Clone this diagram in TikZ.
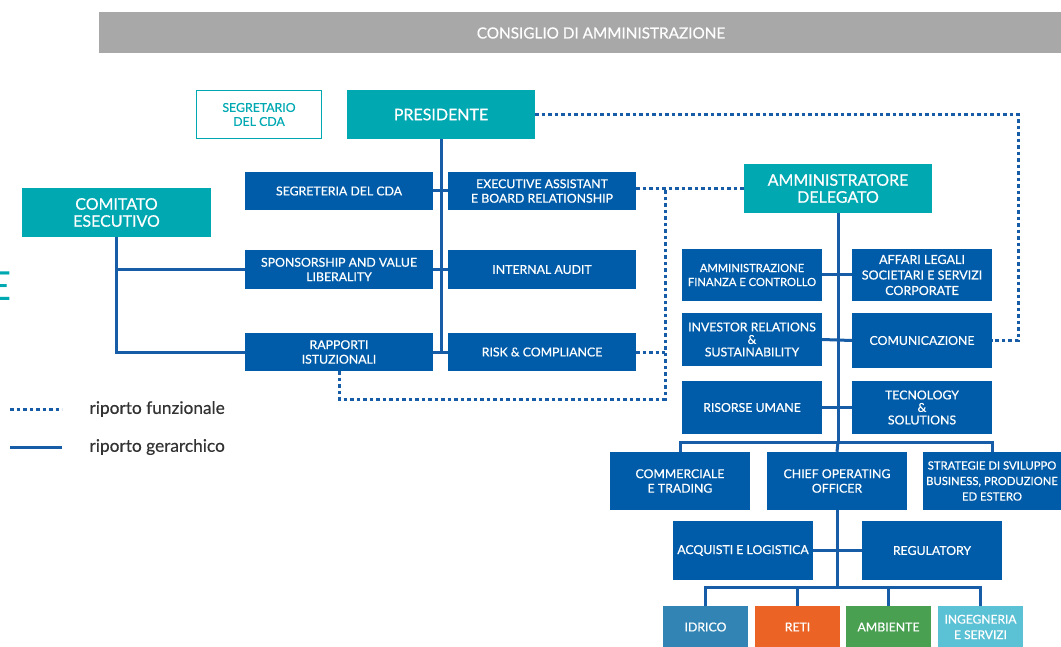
\documentclass[tikz,border=0pt]{standalone}
\usepackage{fontspec}
\setmainfont{Lato}
\newfontfamily\boxfam{Lato}[FakeBold=0.5]
\begin{document}
\begin{tikzpicture}[x=1pt,y=-1pt,
  bluebox/.style={rectangle,fill=boxblue,text=white,inner sep=0pt,align=center,font={\boxfam\fontsize{12.3}{14.5}\selectfont}},
  tealbox/.style={rectangle,fill=teal1,text=white,inner sep=0pt,align=center,font={\boxfam\fontsize{16}{17}\selectfont}},
  gerarc/.style={draw=lineblue,line width=3pt},
  funz/.style={draw=lineblue,line width=3pt,dash pattern=on 3.5pt off 3pt}]
\definecolor{boxblue}{RGB}{0,92,169}
\definecolor{lineblue}{RGB}{22,92,166}
\definecolor{teal1}{RGB}{0,169,178}
\definecolor{barblue}{RGB}{168,168,168}
\definecolor{idrblue}{RGB}{49,132,180}
\definecolor{retiorange}{RGB}{235,100,38}
\definecolor{ambgreen}{RGB}{72,160,80}
\definecolor{ingcyan}{RGB}{91,193,213}
\definecolor{legtext}{RGB}{51,51,51}
\useasboundingbox (0,0) rectangle (1061,647);
\fill[barblue] (99,12) rectangle (1061,53);
\node[text=white,font={\boxfam\fontsize{15.3}{17}\selectfont}] (consiglio) at (601,33) {CONSIGLIO DI AMMINISTRAZIONE};
\node[text=teal1,font={\fontsize{40}{40}\selectfont},anchor=east,inner sep=0pt] (titleE) at (12,286) {E};

\node[rectangle,draw=teal1,line width=1.5pt,text=teal1,inner sep=0pt,align=center,font={\boxfam\fontsize{12.3}{14}\selectfont},minimum width=125pt,minimum height=48pt] (segretario) at (259,114.5) {SEGRETARIO\\DEL CDA};
\node[tealbox,minimum width=188pt,minimum height=49pt] (presidente) at (441,114.5) {PRESIDENTE};
\node[tealbox,minimum width=189pt,minimum height=49pt] (comitato) at (116.5,212.5) {COMITATO\\ESECUTIVO};
\node[tealbox,minimum width=188pt,minimum height=49pt] (ammdel) at (838,188.5) {AMMINISTRATORE\\DELEGATO};

\node[bluebox,minimum width=188pt,minimum height=38pt] (segreteria) at (339,191) {SEGRETERIA DEL CDA};
\node[bluebox,minimum width=188pt,minimum height=38pt] (exec) at (542,191) {EXECUTIVE ASSISTANT\\E BOARD RELATIONSHIP};
\node[bluebox,minimum width=188pt,minimum height=39pt] (sponsor) at (339,269.5) {SPONSORSHIP AND VALUE\\LIBERALITY};
\node[bluebox,minimum width=188pt,minimum height=39pt] (audit) at (542,269.5) {INTERNAL AUDIT};
\node[bluebox,minimum width=188pt,minimum height=38pt] (rapporti) at (339,352) {RAPPORTI\\ISTUZIONALI};
\node[bluebox,minimum width=188pt,minimum height=38pt] (risk) at (542,352) {RISK \& COMPLIANCE};

\node[bluebox,minimum width=140pt,minimum height=52pt,font={\boxfam\fontsize{11.2}{14}\selectfont}] (afc) at (752,275) {AMMINISTRAZIONE\\FINANZA E CONTROLLO};
\node[bluebox,minimum width=140pt,minimum height=52pt,font={\boxfam\fontsize{12.5}{15.5}\selectfont}] (legali) at (922,275) {AFFARI LEGALI\\SOCIETARI E SERVIZI\\CORPORATE};
\node[bluebox,minimum width=140pt,minimum height=53pt,font={\boxfam\fontsize{12.3}{12.5}\selectfont}] (investor) at (752,339.5) {INVESTOR RELATIONS\\\&\\SUSTAINABILITY};
\node[bluebox,minimum width=140pt,minimum height=55pt] (comunic) at (922,340.5) {COMUNICAZIONE};
\node[bluebox,minimum width=140pt,minimum height=53pt] (risorse) at (752,407.5) {RISORSE UMANE};
\node[bluebox,minimum width=140pt,minimum height=53pt,font={\boxfam\fontsize{12.3}{12.5}\selectfont}] (tecno) at (922,407.5) {TECNOLOGY\\\&\\SOLUTIONS};

\node[bluebox,minimum width=140pt,minimum height=58pt] (commerciale) at (680,481) {COMMERCIALE\\E TRADING};
\node[bluebox,minimum width=140pt,minimum height=58pt] (coo) at (837,481) {CHIEF OPERATING\\OFFICER};
\node[bluebox,minimum width=138pt,minimum height=58pt,font={\boxfam\fontsize{11.3}{15.5}\selectfont}] (strategie) at (992,481) {STRATEGIE DI SVILUPPO\\BUSINESS, PRODUZIONE\\ED ESTERO};
\node[bluebox,minimum width=140pt,minimum height=59pt] (acquisti) at (743,550.5) {ACQUISTI E LOGISTICA};
\node[bluebox,minimum width=140pt,minimum height=59pt] (regulatory) at (932,550.5) {REGULATORY};

\node[bluebox,fill=idrblue,minimum width=85pt,minimum height=42pt] (idrico) at (705.5,627) {IDRICO};
\node[bluebox,fill=retiorange,minimum width=85pt,minimum height=42pt] (reti) at (797.5,627) {RETI};
\node[bluebox,fill=ambgreen,minimum width=85pt,minimum height=42pt] (ambiente) at (888.5,627) {AMBIENTE};
\node[bluebox,fill=ingcyan,minimum width=85pt,minimum height=42pt,font={\boxfam\fontsize{12}{15.5}\selectfont}] (ingegneria) at (980.5,627) {INGEGNERIA\\E SERVIZI};

\coordinate (pbus) at (presidente.south |- risk.west);
\coordinate (adbus) at (838,442);
\coordinate (cbus) at (837,587);
\coordinate (pcorner) at (1018,114.5);
\coordinate (fjoin) at (665,188.5);
\coordinate (fbottom) at (665,399);

\draw[gerarc] (presidente.south) -- (pbus);
\draw[gerarc] (segreteria.east) -- (exec.west);
\draw[gerarc] (sponsor.east) -- (audit.west);
\draw[gerarc] (rapporti.east) -- (risk.west);
\draw[gerarc] (comitato.south) |- (rapporti.west);
\draw[gerarc] (comitato.south |- sponsor.west) -- (sponsor.west);
\draw[gerarc] (ammdel.south) -- (adbus);
\draw[gerarc] (afc.east) -- (legali.west);
\draw[gerarc] (investor.east) -- (comunic.west);
\draw[gerarc] (risorse.east) -- (tecno.west);
\draw[gerarc] (commerciale.north) |- (adbus) -| (strategie.north);
\draw[gerarc] (adbus) -- (coo.north);
\draw[gerarc] (coo.south) -- (cbus);
\draw[gerarc] (acquisti.east) -- (regulatory.west);
\draw[gerarc] (idrico.north) |- (cbus) -| (ingegneria.north);
\draw[gerarc] (reti.north) -- (reti.north |- cbus);
\draw[gerarc] (ambiente.north) -- (ambiente.north |- cbus);

\draw[funz] (presidente.east) -- (pcorner) |- (comunic.east);
\draw[funz] (exec.east |- ammdel.west) -- (ammdel.west);
\draw[funz] (rapporti.south) |- (fbottom) -- (fjoin);
\draw[funz] (risk.east) -- (risk.east -| fjoin);

\coordinate (lf1) at (10,409);
\coordinate (lf2) at (62,409);
\coordinate (lg1) at (10,447);
\coordinate (lg2) at (62,447);
\draw[funz] (lf1) -- (lf2);
\draw[gerarc] (lg1) -- (lg2);
\node[anchor=west,text=legtext,font={\boxfam\fontsize{17.3}{19}\selectfont}] (lfunz) at (86,409) {riporto funzionale};
\node[anchor=west,text=legtext,font={\boxfam\fontsize{17.3}{19}\selectfont}] (lgerar) at (86,447) {riporto gerarchico};
\end{tikzpicture}
\end{document}
